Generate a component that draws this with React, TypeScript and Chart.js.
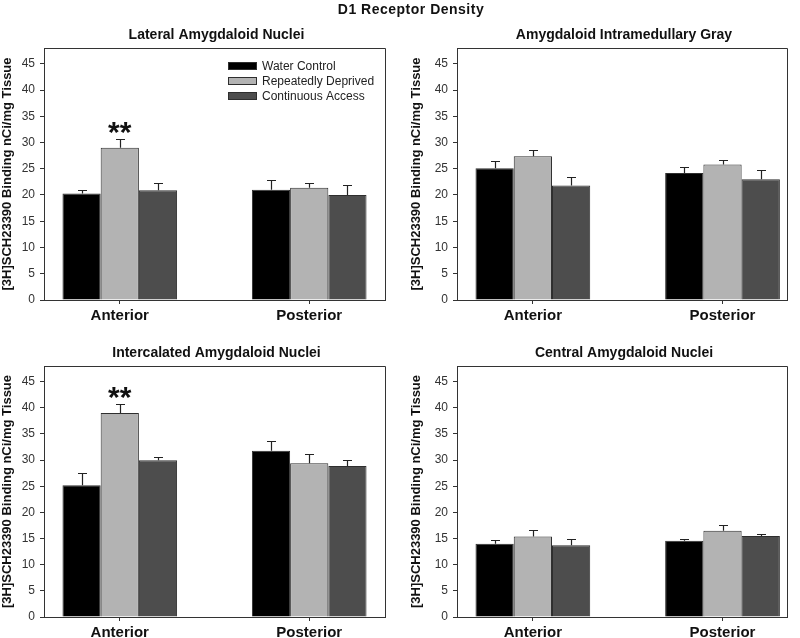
import React, { useEffect, useRef } from 'react';
import { Chart, registerables } from 'chart.js';

Chart.register(...registerables);
Chart.defaults.font.family = 'Arial, "Liberation Sans", sans-serif';

// ---------- data ----------
const mainTitle = 'D1 Receptor Density';
const yAxisTitle = '[3H]SCH23390 Binding nCi/mg Tissue';
const groups = ['Anterior', 'Posterior'];
const seriesNames = ['Water Control', 'Repeatedly Deprived', 'Continuous Access'];
const yMax = 48;
const yStep = 5;
const yTopTick = 45;

// Lateral Amygdaloid Nuclei
const lateralWater = [20.3, 21.0];
const lateralWaterErr = [0.6, 1.8];
const lateralDeprived = [29.0, 21.4];
const lateralDeprivedErr = [1.7, 0.9];
const lateralContinuous = [20.9, 20.0];
const lateralContinuousErr = [1.4, 2.0];
const lateralMarks = [['', ''], ['**', ''], ['', '']];

// Amygdaloid Intramedullary Gray
const imgWater = [25.1, 24.2];
const imgWaterErr = [1.3, 1.2];
const imgDeprived = [27.4, 25.8];
const imgDeprivedErr = [1.2, 0.9];
const imgContinuous = [21.8, 23.0];
const imgContinuousErr = [1.7, 1.7];
const imgMarks = [['', ''], ['', ''], ['', '']];

// Intercalated Amygdaloid Nuclei
const icWater = [25.2, 31.8];
const icWaterErr = [2.4, 1.8];
const icDeprived = [39.0, 29.4];
const icDeprivedErr = [1.65, 1.85];
const icContinuous = [30.0, 28.9];
const icContinuousErr = [0.6, 1.1];
const icMarks = [['', ''], ['**', ''], ['', '']];

// Central Amygdaloid Nuclei
const ceWater = [14.0, 14.6];
const ceWaterErr = [0.75, 0.3];
const ceDeprived = [15.4, 16.5];
const ceDeprivedErr = [1.15, 1.15];
const ceContinuous = [13.7, 15.5];
const ceContinuousErr = [1.2, 0.45];
const ceMarks = [['', ''], ['', ''], ['', '']];

// ---------- styles ----------
const seriesFill = ['#000000', '#b3b3b3', '#4d4d4d'];
const barBorder = '#2e2e2e';
const axisColor = '#333333';

type Panel = {
  title: string;
  values: number[][];
  errors: number[][];
  marks: string[][];
  legend: boolean;
  box: { left: number; top: number; w: number; h: number };
  area: { l: number; t: number; r: number; b: number };
  xMin: number;
  xMax: number;
  yTitlePad: number;
};

const panels: Panel[] = [
  {
    title: 'Lateral Amygdaloid Nuclei',
    values: [lateralWater, lateralDeprived, lateralContinuous],
    errors: [lateralWaterErr, lateralDeprivedErr, lateralContinuousErr],
    marks: lateralMarks,
    legend: true,
    box: { left: 0, top: 0, w: 400, h: 322 },
    area: { l: 44, t: 48, r: 385, b: 300 },
    xMin: -0.4,
    xMax: 1.4,
    yTitlePad: 0,
  },
  {
    title: 'Amygdaloid Intramedullary Gray',
    values: [imgWater, imgDeprived, imgContinuous],
    errors: [imgWaterErr, imgDeprivedErr, imgContinuousErr],
    marks: imgMarks,
    legend: false,
    box: { left: 400, top: 0, w: 400, h: 322 },
    area: { l: 57, t: 48, r: 387, b: 300 },
    xMin: -0.4,
    xMax: 1.34,
    yTitlePad: 9,
  },
  {
    title: 'Intercalated Amygdaloid Nuclei',
    values: [icWater, icDeprived, icContinuous],
    errors: [icWaterErr, icDeprivedErr, icContinuousErr],
    marks: icMarks,
    legend: false,
    box: { left: 0, top: 322, w: 400, h: 316 },
    area: { l: 44, t: 44, r: 385, b: 295 },
    xMin: -0.4,
    xMax: 1.4,
    yTitlePad: 0,
  },
  {
    title: 'Central Amygdaloid Nuclei',
    values: [ceWater, ceDeprived, ceContinuous],
    errors: [ceWaterErr, ceDeprivedErr, ceContinuousErr],
    marks: ceMarks,
    legend: false,
    box: { left: 400, top: 322, w: 400, h: 316 },
    area: { l: 57, t: 44, r: 387, b: 295 },
    xMin: -0.4,
    xMax: 1.34,
    yTitlePad: 9,
  },
];

function makeDecor(p: Panel) {
  return {
    id: 'panelDecor',
    afterDatasetsDraw(chart: any) {
      const { ctx, chartArea: a, scales } = chart;
      const ys = scales.y;
      ctx.save();
      // frame top and right
      ctx.strokeStyle = axisColor;
      ctx.lineWidth = 1;
      ctx.beginPath();
      ctx.moveTo(a.left, Math.round(a.top) + 0.5);
      ctx.lineTo(Math.round(a.right) + 0.5, Math.round(a.top) + 0.5);
      ctx.lineTo(Math.round(a.right) + 0.5, a.bottom);
      ctx.stroke();

      // error bars and significance marks
      p.values.forEach((vals, s) => {
        const meta = chart.getDatasetMeta(s);
        meta.data.forEach((el: any, i: number) => {
          const topPx = ys.getPixelForValue(vals[i] + p.errors[s][i]);
          const x = Math.round(el.x) + 0.5;
          const ty = Math.round(topPx) + 0.5;
          ctx.strokeStyle = '#222';
          ctx.lineWidth = 1.2;
          ctx.beginPath();
          ctx.moveTo(x, el.y);
          ctx.lineTo(x, ty);
          ctx.moveTo(x - 4.5, ty);
          ctx.lineTo(x + 4.5, ty);
          ctx.stroke();
          const mark = p.marks[s][i];
          if (mark) {
            ctx.font = 'bold 30px Arial, "Liberation Sans", sans-serif';
            ctx.fillStyle = '#111';
            ctx.textAlign = 'center';
            ctx.textBaseline = 'alphabetic';
            const m = ctx.measureText(mark);
            const desc = m.actualBoundingBoxDescent || 0;
            const baseline = topPx - 5 - desc;
            ctx.fillText(mark, el.x, baseline);
          }
        });
      });

      // panel title
      ctx.font = 'bold 14px Arial, "Liberation Sans", sans-serif';
      ctx.fillStyle = '#111';
      ctx.textAlign = 'center';
      ctx.textBaseline = 'alphabetic';
      ctx.fillText(p.title, (a.left + a.right) / 2 + 2, a.top - 9);

      // legend
      if (p.legend) {
        ctx.font = '12px Arial, "Liberation Sans", sans-serif';
        ctx.textAlign = 'left';
        ctx.textBaseline = 'middle';
        seriesNames.forEach((name, s) => {
          const cy = a.top + 18 + s * 15;
          const sx = a.left + 184;
          ctx.fillStyle = seriesFill[s];
          ctx.fillRect(sx, cy - 4, 29, 8);
          ctx.strokeStyle = barBorder;
          ctx.lineWidth = 1;
          ctx.strokeRect(sx + 0.5, cy - 3.5, 28, 7);
          ctx.fillStyle = '#222';
          ctx.fillText(name, sx + 34, cy + 0.5);
        });
      }
      ctx.restore();
    },
  };
}

function PanelChart({ p }: { p: Panel }) {
  const ref = useRef<HTMLCanvasElement | null>(null);
  useEffect(() => {
    if (!ref.current) return;
    const datasets = seriesNames.map((name, s) => ({
      label: name,
      data: groups.map((_, i) => ({ x: i, y: p.values[s][i] })),
      backgroundColor: seriesFill[s],
      borderColor: barBorder,
      borderWidth: 1,
      categoryPercentage: 0.605,
      barPercentage: 1,
    }));
    const chart = new Chart(ref.current, {
      type: 'bar',
      data: { datasets },
      options: {
        responsive: false,
        animation: false,
        events: [],
        layout: { padding: { left: 0, top: p.area.t, right: p.box.w - p.area.r, bottom: 0 }, autoPadding: false },
        plugins: {
          legend: { display: false },
          tooltip: { enabled: false },
          title: { display: false },
        },
        scales: {
          x: {
            type: 'linear',
            min: p.xMin,
            max: p.xMax,
            offset: false,
            afterBuildTicks: (sc: any) => {
              sc.ticks = groups.map((_, i) => ({ value: i }));
            },
            afterFit: (sc: any) => {
              sc.height = p.box.h - p.area.b;
            },
            grid: {
              display: true,
              drawOnChartArea: false,
              drawTicks: true,
              tickLength: 4,
              color: axisColor,
              offset: false,
            },
            border: { display: true, color: axisColor, width: 1 },
            ticks: {
              callback: (v: any) => groups[v] ?? '',
              font: { size: 15, weight: 'bold' },
              color: '#111',
              padding: 3,
              autoSkip: false,
              maxRotation: 0,
            },
          },
          y: {
            type: 'linear',
            min: 0,
            max: yMax,
            afterBuildTicks: (sc: any) => {
              sc.ticks = sc.ticks.filter((t: any) => t.value % yStep === 0 && t.value <= yTopTick);
            },
            afterFit: (sc: any) => {
              sc.width = p.area.l;
            },
            grid: {
              display: true,
              drawOnChartArea: false,
              drawTicks: true,
              tickLength: 4,
              color: axisColor,
            },
            border: { display: true, color: axisColor, width: 1 },
            ticks: {
              stepSize: yStep,
              includeBounds: false,
              font: { size: 12 },
              color: '#333',
              padding: 5,
            },
            title: {
              display: true,
              text: yAxisTitle,
              font: { size: 13, weight: 'bold' },
              color: '#111',
              padding: { top: p.yTitlePad, bottom: 0 },
            },
          },
        },
      } as any,
      plugins: [makeDecor(p)],
    });
    return () => chart.destroy();
  }, [p]);
  return (
    <canvas
      ref={ref}
      width={p.box.w}
      height={p.box.h}
      style={{ position: 'absolute', left: p.box.left, top: p.box.top, width: p.box.w, height: p.box.h }}
    />
  );
}

export default function App() {
  return (
    <div style={{ position: 'absolute', left: 0, top: 0, width: 800, height: 638, background: '#fff', overflow: 'hidden' }}>
      {panels.map((p, i) => (
        <PanelChart key={i} p={p} />
      ))}
      <div
        style={{
          position: 'absolute',
          left: 0,
          top: 2,
          width: 822,
          textAlign: 'center',
          font: 'bold 14px Arial, "Liberation Sans", sans-serif',
          letterSpacing: '0.5px',
          lineHeight: '15px',
          color: '#111',
          zIndex: 2,
          whiteSpace: 'nowrap',
        }}
      >
        {mainTitle}
      </div>
    </div>
  );
}
